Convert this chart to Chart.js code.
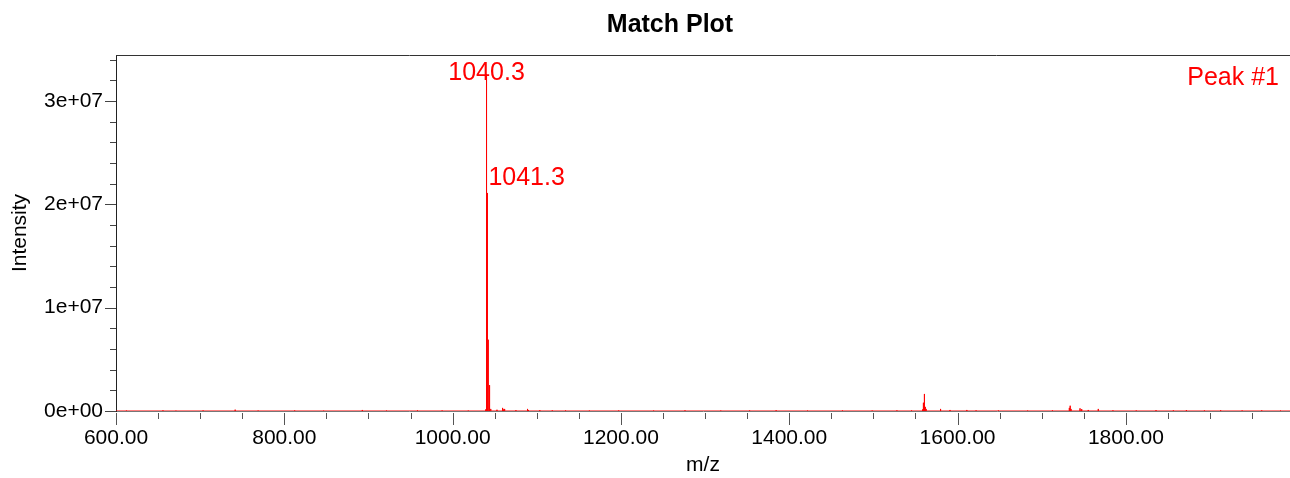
<!DOCTYPE html>
<html>
<head>
<meta charset="utf-8">
<script src="https://cdn.jsdelivr.net/npm/chart.js@4/dist/chart.umd.min.js"></script>
<style>
html,body{margin:0;padding:0;background:#fff;overflow:hidden}
#wrap{width:1290px;height:478px;position:relative}
</style>
</head>
<body>
<div id="wrap"><canvas id="c" width="1290" height="478"></canvas></div>
<script>
// ---- chart data ----
const chartTitle = 'Match Plot';
const xAxisTitle = 'm/z';
const yAxisTitle = 'Intensity';
const cornerText = 'Peak #1';

const xMin = 600, xMax = 1995;
const yMin = 0, yMax = 3.445e7;

const xTickValues = [600, 800, 1000, 1200, 1400, 1600, 1800];
const xTickLabels = ['600.00', '800.00', '1000.00', '1200.00', '1400.00', '1600.00', '1800.00'];
const yTickValues = [0, 1e7, 2e7, 3e7];
const yTickLabels = ['0e+00', '1e+07', '2e+07', '3e+07'];

const peakMz = [
  612.4, 655.8, 671.2, 703.5, 741.6, 768.9, 812.3, 846.7, 892.7, 921.4,
  958.2, 987.5, 1018.6, 1039.3, 1040.3, 1041.3, 1042.3, 1043.3, 1044.3, 1045.3,
  1052.7, 1059.4, 1060.4, 1061.8, 1075.2, 1089.0, 1090.0, 1103.6, 1118.4, 1134.2,
  1162.5, 1197.3, 1238.8, 1276.1, 1318.6, 1352.9, 1384.4, 1421.7, 1463.2, 1498.5,
  1527.9, 1545.3, 1558.4, 1559.4, 1560.6, 1561.6, 1562.6, 1579.2, 1580.2, 1591.0,
  1611.0, 1622.0, 1648.5, 1683.2, 1712.7, 1732.8, 1733.8, 1734.8, 1745.5, 1747.5,
  1755.3, 1767.2, 1784.6, 1812.3, 1835.8, 1856.4, 1871.9, 1893.3, 1912.6, 1938.1,
  1961.4, 1983.7
];
const peakIntensity = [
  4e4, 6e4, 3e4, 5e4, 1.3e5, 4e4, 5e4, 3e4, 1e5, 4e4,
  6e4, 5e4, 4e4, 1.5e5, 3.26e7, 2.11e7, 6.9e6, 2.5e6, 6e5, 2e5,
  1.2e5, 3e5, 1.5e5, 2e5, 8e4, 2e5, 1e5, 8e4, 6e4, 5e4,
  4e4, 5e4, 4e4, 6e4, 4e4, 5e4, 7e4, 4e4, 5e4, 4e4,
  6e4, 5e4, 1.5e5, 8e5, 1.65e6, 4e5, 2e5, 2e5, 1e5, 1e5,
  1e5, 6e4, 5e4, 4e4, 6e4, 3e5, 5.1e5, 2e5, 2.6e5, 1.8e5,
  1e5, 2e5, 6e4, 5e4, 8e4, 6e4, 9e4, 5e4, 7e4, 5e4,
  6e4, 4e4
];

const labelMz = [1040.3, 1041.3];
const labelText = ['1040.3', '1041.3'];

// ---- build stick spectrum for the line dataset ----
const stickPoints = [{x: xMin, y: 0}];
peakMz.forEach((m, i) => {
  stickPoints.push({x: m, y: 0}, {x: m, y: peakIntensity[i]}, {x: m, y: 0});
});
stickPoints.push({x: xMax, y: 0});

const FONT = '"Liberation Sans", Arial, Helvetica, sans-serif';

const decor = {
  id: 'decor',
  afterDraw(chart) {
    const ctx = chart.ctx;
    const a = chart.chartArea;
    const xs = chart.scales.x, ys = chart.scales.y;
    ctx.save();
    // top frame line
    ctx.strokeStyle = '#333';
    ctx.lineWidth = 1;
    ctx.beginPath();
    ctx.moveTo(a.left, Math.round(a.top) + 0.5);
    ctx.lineTo(a.right, Math.round(a.top) + 0.5);
    ctx.stroke();
    // x tick marks (major every 200, minor every 50)
    ctx.strokeStyle = '#555';
    ctx.beginPath();
    for (let v = xMin; v <= xMax; v += 50) {
      const major = xTickValues.includes(v);
      const px = Math.round(xs.getPixelForValue(v)) + 0.5;
      ctx.moveTo(px, a.bottom + 2);
      ctx.lineTo(px, a.bottom + (major ? 14 : 8));
    }
    ctx.stroke();
    // y tick marks (major every 1e7, minor every 2e6)
    ctx.strokeStyle = '#444';
    ctx.beginPath();
    for (let k = 0; k * 2e6 <= yMax; k++) {
      const v = k * 2e6;
      const major = yTickValues.includes(v);
      const py = Math.round(ys.getPixelForValue(v)) + 0.5;
      ctx.moveTo(a.left - (major ? 11 : 6), py);
      ctx.lineTo(a.left, py);
    }
    ctx.stroke();
    // peak labels
    ctx.fillStyle = '#ff0000';
    ctx.font = '25px ' + FONT;
    ctx.textBaseline = 'alphabetic';
    labelMz.forEach((m, i) => {
      const idx = peakMz.indexOf(m);
      const px = xs.getPixelForValue(m);
      const py = ys.getPixelForValue(peakIntensity[idx]);
      const y = Math.max(py - 8, a.top + 25);
      ctx.textAlign = i === 0 ? 'center' : 'left';
      ctx.fillText(labelText[i], i === 0 ? px : px + 1, y);
    });
    // corner text
    ctx.textAlign = 'right';
    ctx.fillText(cornerText, a.right - 11, a.top + 30);
    // title
    ctx.fillStyle = '#000';
    ctx.font = 'bold 25px ' + FONT;
    ctx.textAlign = 'center';
    ctx.fillText(chartTitle, 670, 32);
    ctx.restore();
  }
};

new Chart(document.getElementById('c'), {
  type: 'line',
  data: {
    datasets: [{
      data: stickPoints,
      borderColor: '#ff0000',
      borderWidth: 1,
      pointRadius: 0,
      tension: 0,
      fill: false
    }]
  },
  options: {
    responsive: false,
    animation: false,
    events: [],
    layout: {padding: {top: 55, right: 0, bottom: 0, left: 0}},
    plugins: {legend: {display: false}, tooltip: {enabled: false}, title: {display: false}},
    scales: {
      x: {
        type: 'linear',
        min: xMin,
        max: xMax,
        afterBuildTicks: s => { s.ticks = xTickValues.map(v => ({value: v})); },
        afterFit: s => { s.height = 67; },
        ticks: {
          autoSkip: false, maxRotation: 0, padding: 0,
          color: '#000', font: {size: 21, family: FONT},
          callback: v => { const i = xTickValues.indexOf(v); return i >= 0 ? xTickLabels[i] : ''; }
        },
        grid: {drawOnChartArea: false, tickLength: 15, tickColor: 'rgba(0,0,0,0)'},
        border: {color: '#777', width: 1},
        title: {display: true, text: xAxisTitle, color: '#000', font: {size: 21, family: FONT}, padding: {top: 0, bottom: 0}}
      },
      y: {
        type: 'linear',
        min: yMin,
        max: yMax,
        afterBuildTicks: s => { s.ticks = yTickValues.map(v => ({value: v})); },
        afterFit: s => { s.width = 116; },
        ticks: {
          padding: 0, color: '#000', font: {size: 21, family: FONT},
          callback: v => { const i = yTickValues.indexOf(v); return i >= 0 ? yTickLabels[i] : ''; }
        },
        grid: {drawOnChartArea: false, tickLength: 13, tickColor: 'rgba(0,0,0,0)'},
        border: {color: '#222', width: 1},
        title: {display: true, text: yAxisTitle, color: '#000', font: {size: 21, family: FONT}, padding: {top: 8, bottom: 0}}
      }
    }
  },
  plugins: [decor]
});
</script>
</body>
</html>
